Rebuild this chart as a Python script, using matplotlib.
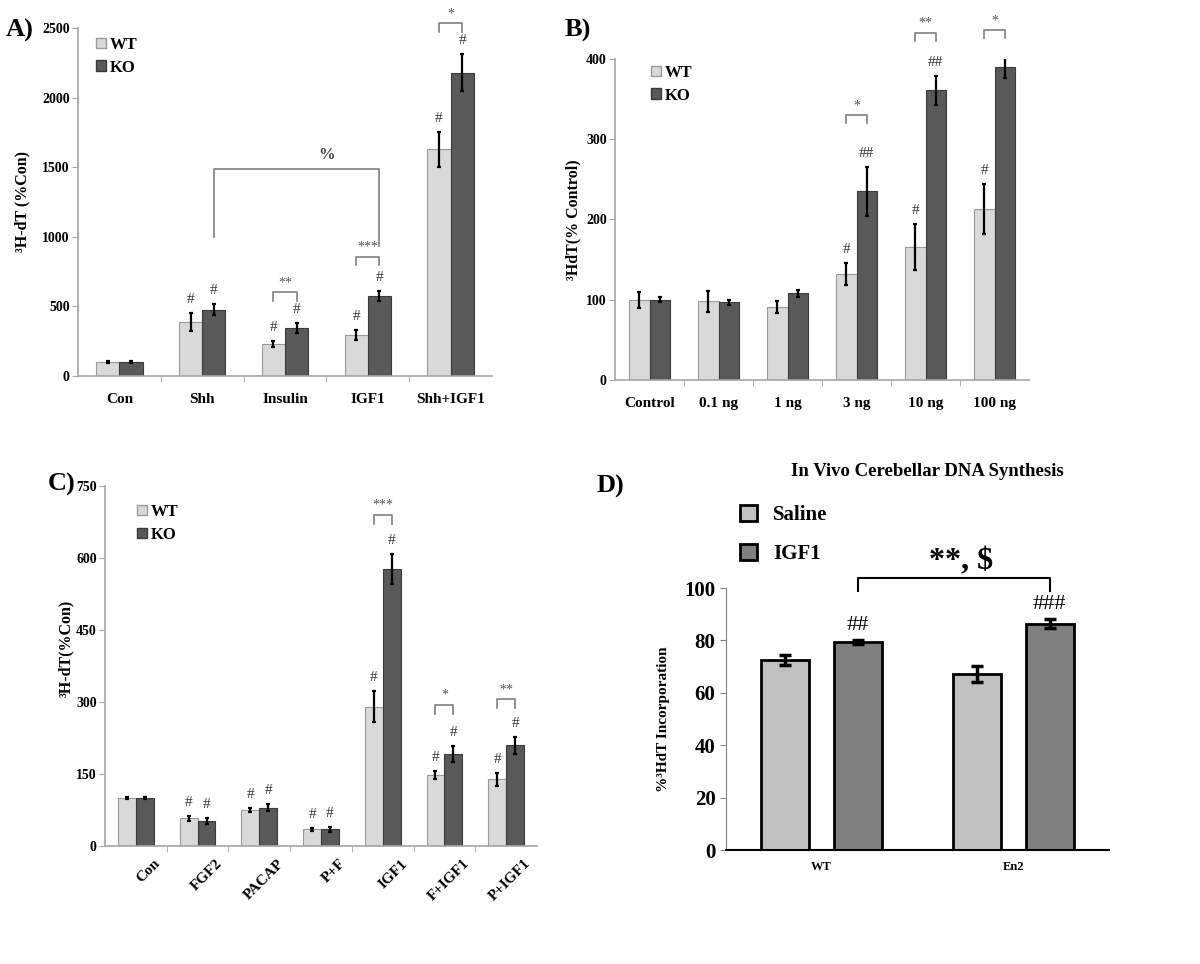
import matplotlib
matplotlib.use('Agg')
import matplotlib.pyplot as plt
import matplotlib.transforms as mtransforms
import numpy as np
from matplotlib.patches import Patch

plt.rcParams['font.family'] = ['Liberation Serif', 'DejaVu Serif']
plt.rcParams['font.weight'] = 'bold'

# Panel A data
a_cats = ['Con', 'Shh', 'Insulin', 'IGF1', 'Shh+IGF1']
a_wt = [100, 390, 230, 295, 1630]
a_wt_err = [5, 65, 25, 35, 125]
a_ko = [100, 475, 345, 575, 2180]
a_ko_err = [8, 40, 35, 35, 133]
a_wt_hash = ['', '#', '#', '#', '#']
a_ko_hash = ['', '#', '#', '#', '#']
a_brackets = [(2, 600, '**'), (3, 857, '***'), (4, 2537, '*')]

# Panel B data
b_cats = ['Control', '0.1 ng', '1 ng', '3 ng', '10 ng', '100 ng']
b_wt = [100, 98, 91, 132, 166, 213]
b_wt_err = [10, 13, 7, 14, 29, 31]
b_ko = [100, 97, 108, 235, 361, 390]
b_ko_err = [3, 3, 4, 31, 18, 14]
b_wt_hash = ['', '', '', '#', '#', '#']
b_ko_hash = ['', '', '', '##', '##', '##']
b_brackets = [(3, 330, '*'), (4, 433, '**'), (5, 436, '*')]

# Panel C data
c_cats = ['Con', 'FGF2', 'PACAP', 'P+F', 'IGF1', 'F+IGF1', 'P+IGF1']
c_wt = [100, 58, 75, 35, 290, 148, 139]
c_wt_err = [2, 5, 5, 3, 32, 9, 13]
c_ko = [100, 52, 80, 35, 577, 191, 210]
c_ko_err = [3, 6, 8, 5, 32, 17, 18]
c_wt_hash = ['', '#', '#', '#', '#', '#', '#']
c_ko_hash = ['', '#', '#', '#', '#', '#', '#']
c_brackets = [(4, 690, '***'), (5, 294, '*'), (6, 306, '**')]

# Panel D data
d_groups = ['WT', 'En2']
d_saline = [72.5, 67.2]
d_saline_err = [2, 3.2]
d_igf1 = [79.4, 86.3]
d_igf1_err = [0.7, 1.7]
d_igf1_hash = ['##', '###']

WT_COLOR = '#d9d9d9'
KO_COLOR = '#595959'
SPINE = '#a6a6a6'


def frac(l, r, top, bottom):
    return [l / 1200, 1 - bottom / 964, (r - l) / 1200, (bottom - top) / 964]


def grouped(ax, cats, wt, wt_err, ko, ko_err, wt_hash, ko_hash, brackets,
            ymax, step, ylabel, width, leg_xy):
    x = np.arange(len(cats))
    ax.bar(x - width / 2, wt, width, color=WT_COLOR, edgecolor='#9a9a9a', linewidth=0.8)
    ax.bar(x + width / 2, ko, width, color=KO_COLOR, edgecolor='#3a3a3a', linewidth=0.8)
    ax.errorbar(x - width / 2, wt, yerr=wt_err, fmt='none', ecolor='black',
                elinewidth=1.6, capsize=1.5, capthick=1.6)
    ax.errorbar(x + width / 2, ko, yerr=ko_err, fmt='none', ecolor='black',
                elinewidth=1.6, capsize=1.5, capthick=1.6)
    for i in range(len(cats)):
        if wt_hash[i]:
            ax.annotate(wt_hash[i], (x[i] - width / 2, wt[i] + wt_err[i]),
                        xytext=(0, 5), textcoords='offset points', ha='center',
                        va='bottom', fontsize=11, fontweight='normal', color='#333333')
        if ko_hash[i]:
            ax.annotate(ko_hash[i], (x[i] + width / 2, ko[i] + ko_err[i]),
                        xytext=(0, 5), textcoords='offset points', ha='center',
                        va='bottom', fontsize=11, fontweight='normal', color='#333333')
    for i, yb, lab in brackets:
        leg = ymax * 0.025
        ax.plot([i - width / 2, i - width / 2, i + width / 2, i + width / 2],
                [yb - leg, yb, yb, yb - leg], color='#808080', lw=1.2, clip_on=False)
        ax.text(i, yb + ymax * 0.008, lab, ha='center', va='bottom', fontsize=10,
                fontweight='normal', color='#555555', clip_on=False)
    ax.set_xlim(-0.5, len(cats) - 0.5)
    ax.set_ylim(0, ymax)
    ax.set_yticks(np.arange(0, ymax + 1, step))
    ax.set_xticks(x)
    ax.set_xticks(np.arange(0.5, len(cats) - 0.5, 1), minor=True)
    ax.tick_params(axis='x', which='major', length=0, labelsize=11, pad=12)
    ax.tick_params(axis='x', which='minor', length=4, color=SPINE, direction='out')
    ax.tick_params(axis='y', length=4, color=SPINE, labelsize=10, direction='out', pad=2)
    for s in ['top', 'right']:
        ax.spines[s].set_visible(False)
    for s in ['left', 'bottom']:
        ax.spines[s].set_color(SPINE)
        ax.spines[s].set_linewidth(1.2)
    ax.set_ylabel(ylabel, fontsize=11.5, fontweight='bold')
    ax.legend(handles=[Patch(facecolor=WT_COLOR, edgecolor='#9a9a9a', label='WT'),
                       Patch(facecolor=KO_COLOR, edgecolor='#3a3a3a', label='KO')],
              loc='upper left', bbox_to_anchor=(leg_xy[0] / 1200, 1 - leg_xy[1] / 964),
              bbox_transform=fig.transFigure, frameon=False,
              handlelength=0.6, handleheight=0.6, handletextpad=0.2,
              labelspacing=0.4, borderaxespad=0, borderpad=0,
              prop={'weight': 'bold', 'size': 12})
    return x


fig = plt.figure(figsize=(12, 9.64), dpi=100)

# A
axA = fig.add_axes(frac(78, 492, 28, 376))
grouped(axA, a_cats, a_wt, a_wt_err, a_ko, a_ko_err, a_wt_hash, a_ko_hash,
        a_brackets, 2500, 500, '³H-dT (%Con)', 0.28, (96, 37))
axA.set_xticklabels(a_cats)
xl, xr = 1 + 0.14, 3 + 0.14
axA.plot([xl, xl, xr, xr], [1000, 1490, 1490, 935], color='#808080', lw=1.2)
axA.text(2.5, 1530, '%', ha='center', va='bottom', fontsize=12, color='#444444')
axA.yaxis.set_label_coords(-0.115, 0.5)

# B
axB = fig.add_axes(frac(615, 1029, 59, 380))
grouped(axB, b_cats, b_wt, b_wt_err, b_ko, b_ko_err, b_wt_hash, b_ko_hash,
        b_brackets, 400, 100, '³HdT(% Control)', 0.29, (651, 65))
axB.set_xticklabels(b_cats)
axB.yaxis.set_label_coords(-0.08, 0.5)

# C
axC = fig.add_axes(frac(105, 537, 486, 846))
grouped(axC, c_cats, c_wt, c_wt_err, c_ko, c_ko_err, c_wt_hash, c_ko_hash,
        c_brackets, 750, 150, '³H-dT(%Con)', 0.29, (137, 504))
axC.set_xticklabels(c_cats, rotation=45, ha='right', rotation_mode='anchor')
axC.tick_params(axis='x', which='major', pad=8)
shift = mtransforms.ScaledTranslation(0.18, 0, fig.dpi_scale_trans)
for lab in axC.get_xticklabels():
    lab.set_transform(lab.get_transform() + shift)
axC.yaxis.set_label_coords(-0.072, 0.55)

# D
axD = fig.add_axes(frac(726, 1109, 588, 850))
xd = np.arange(len(d_groups))
wd = 0.25
off = 0.19
axD.bar(xd - off, d_saline, wd, color='#c0c0c0', edgecolor='black', linewidth=2)
axD.bar(xd + off, d_igf1, wd, color='#808080', edgecolor='black', linewidth=2)
axD.errorbar(xd - off, d_saline, yerr=d_saline_err, fmt='none', ecolor='black',
             elinewidth=2.5, capsize=4, capthick=2.5)
axD.errorbar(xd + off, d_igf1, yerr=d_igf1_err, fmt='none', ecolor='black',
             elinewidth=2.5, capsize=4, capthick=2.5)
for i in range(len(d_groups)):
    axD.annotate(d_igf1_hash[i], (xd[i] + off, d_igf1[i] + d_igf1_err[i]),
                 xytext=(0, 4), textcoords='offset points', ha='center', va='bottom',
                 fontsize=16, fontweight='normal')
axD.plot([xd[0] + off, xd[0] + off, xd[1] + off, xd[1] + off], [99, 103.8, 103.8, 99],
         color='black', lw=1.5, clip_on=False)
axD.text(0.73, 104.3, '**, $', ha='center', va='bottom', fontsize=23,
         fontweight='bold', clip_on=False)
axD.set_xlim(-0.5, 1.5)
axD.set_ylim(0, 100)
axD.set_yticks(np.arange(0, 101, 20))
axD.set_xticks(xd)
axD.set_xticklabels(d_groups)
axD.tick_params(axis='x', length=0, labelsize=9, pad=8)
axD.tick_params(axis='y', length=4, color='#808080', labelsize=15, direction='out')
for s in ['top', 'right']:
    axD.spines[s].set_visible(False)
axD.spines['left'].set_color('#808080')
axD.spines['bottom'].set_color('black')
axD.spines['bottom'].set_linewidth(1.5)
axD.set_ylabel('%³HdT Incorporation', fontsize=11, fontweight='bold')
axD.yaxis.set_label_coords(-0.145, 0.5)
axD.legend(handles=[Patch(facecolor='#c0c0c0', edgecolor='black', linewidth=2, label='Saline'),
                    Patch(facecolor='#808080', edgecolor='black', linewidth=2, label='IGF1')],
           loc='upper left', bbox_to_anchor=(740 / 1200, 1 - 505 / 964),
           bbox_transform=fig.transFigure, frameon=False, handlelength=0.8,
           handleheight=0.8, handletextpad=0.8, labelspacing=0.9, borderaxespad=0,
           borderpad=0, prop={'weight': 'bold', 'size': 15})
fig.text(927 / 1200, 1 - 471 / 964, 'In Vivo Cerebellar DNA Synthesis', ha='center',
         va='center', fontsize=13.5, fontweight='bold')

# panel letters
fig.text(6 / 1200, 1 - 30 / 964, 'A)', fontsize=19, fontweight='bold', va='center')
fig.text(565 / 1200, 1 - 30 / 964, 'B)', fontsize=19, fontweight='bold', va='center')
fig.text(48 / 1200, 1 - 484 / 964, 'C)', fontsize=19, fontweight='bold', va='center')
fig.text(597 / 1200, 1 - 486 / 964, 'D)', fontsize=19, fontweight='bold', va='center')

fig.savefig('out.png', dpi=100, facecolor='white')
